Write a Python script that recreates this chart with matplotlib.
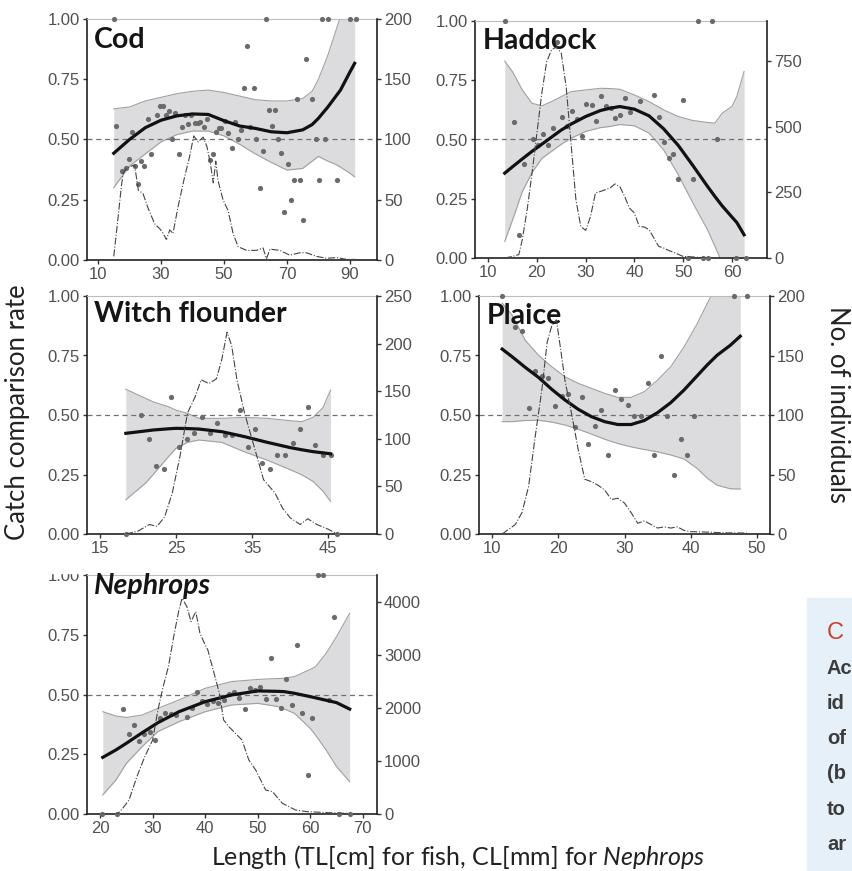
import matplotlib
matplotlib.use("Agg")
import matplotlib.pyplot as plt
from matplotlib.patches import Rectangle

plt.rcParams["font.family"] = ["Liberation Sans", "DejaVu Sans"]
plt.rcParams["mathtext.fontset"] = "custom"
plt.rcParams["mathtext.rm"] = "Lato"
plt.rcParams["mathtext.it"] = "Lato:italic"

# ---- Cod ----
cod_len = [15, 15.8, 17.7, 18.8, 19.9, 20.7, 21.6, 22.8, 23.8, 24.7, 25.9, 26.7, 28.8, 29.6, 30.5, 31.5,
           32.7, 33.6, 34.5, 35.6, 36.6, 37.7, 38.7, 39.6, 40.7, 41.8, 42.5, 43.6, 44.6, 45.5, 46.6, 47.4,
           48.4, 49.2, 50.4, 51.4, 52.5, 53.4, 54.4, 55.4, 56.4, 57.3, 58.4, 59.4, 60.3, 61.4, 62.3, 63.3,
           64.4, 65.3, 66.3, 67.3, 68.2, 69.2, 70.3, 71.2, 72.2, 73.3, 74.3, 75.2, 76.2, 78.1, 79.2, 80.2,
           81.1, 82.1, 83.1, 86, 90, 91.9]
cod_rate = [1.0, 0.556, 0.37, 0.38, 0.42, 0.53, 0.39, 0.315, 0.41, 0.39, 0.585, 0.44, 0.6, 0.64, 0.64, 0.6,
            0.62, 0.5, 0.61, 0.44, 0.55, 0.6, 0.565, 0.6, 0.567, 0.57, 0.573, 0.553, 0.587, 0.415, 0.44, 0.53,
            0.548, 0.546, 0.578, 0.528, 0.465, 0.571, 0.5, 0.538, 0.712, 0.888, 0.553, 0.712, 0.5, 0.3, 0.454, 1.0,
            0.622, 0.556, 0.622, 0.5, 0.444, 0.2, 0.398, 0.25, 0.332, 0.667, 0.332, 0.165, 0.833, 0.667, 0.5, 0.332,
            1.0, 0.5, 1.0, 0.332, 1.0, 1.0]
cod_x = [15, 20, 25, 30, 35, 40, 45, 50, 55, 60, 65, 70, 75, 78, 80, 83, 85, 87, 90, 91.5]
cod_fit = [0.443, 0.50, 0.549, 0.58, 0.598, 0.606, 0.604, 0.578, 0.556, 0.546, 0.532, 0.528, 0.54, 0.562,
           0.588, 0.635, 0.67, 0.705, 0.78, 0.816]
cod_hi = [0.627, 0.635, 0.66, 0.675, 0.69, 0.70, 0.705, 0.695, 0.68, 0.665, 0.66, 0.66, 0.67, 0.70,
          0.75, 0.85, 0.93, 1.01, 1.15, 1.2]
cod_lo = [0.30, 0.39, 0.44, 0.49, 0.52, 0.535, 0.535, 0.515, 0.48, 0.44, 0.405, 0.373, 0.38, 0.41,
          0.43, 0.41, 0.40, 0.385, 0.36, 0.345]
cod_nx = [15, 16.4, 17.4, 18, 19, 21.6, 22.8, 24.3, 25.9, 28, 29.6, 30.7, 31.7, 32.8, 33.8, 35.4, 37.5, 39.1,
          40.4, 41.8, 43.4, 44.6, 45.7, 46.6, 47.4, 48.1, 49.7, 51.3, 52.9, 54.5, 57.2, 60.3, 62.4, 63.5,
          64.6, 67.7, 70.9, 74.1, 76.2, 79.4, 82.6, 85.8, 89, 91.9]
cod_n = [3, 36, 61, 72, 76, 79, 58, 55, 43, 30, 26, 22, 17, 25, 22, 44, 69, 86,
         103, 98, 102, 94, 80, 64, 82, 66, 50, 41, 22, 11, 8, 8, 10, 1,
         9, 8, 4, 6, 6, 3, 1.4, 2, 0.5, 0.5]

# ---- Haddock ----
had_len = [13.4, 15.3, 16.3, 17.3, 19.3, 20.3, 21.2, 22.3, 23.2, 24.2, 25.2, 26.2, 27.2, 28.2, 29.2, 30.1,
           31.2, 32.1, 33.2, 34.1, 35.1, 36.1, 37.1, 38.1, 39.1, 41.1, 44.0, 45.1, 46.0, 47.1, 48.0, 49.0,
           50.0, 51.0, 52.0, 53.0, 54.0, 55.0, 56.0, 56.9, 60.9, 62.9]
had_rate = [1.0, 0.572, 0.097, 0.396, 0.504, 0.476, 0.522, 0.476, 0.55, 0.913, 0.597, 0.555, 0.619, 0.586,
            0.515, 0.65, 0.645, 0.576, 0.685, 0.642, 0.633, 0.591, 0.605, 0.674, 0.618, 0.664, 0.688, 0.594,
            0.49, 0.423, 0.438, 0.334, 0.667, 0.0, 0.334, 1.0, 0.0, 0.0, 1.0, 0.501, 0.0, 0.0]
had_x = [13.4, 15, 17, 19, 21, 23, 25, 27, 30, 33, 35, 37, 40, 43, 46, 49, 52, 55, 56.5, 58, 60, 61, 62.5]
had_fit = [0.358, 0.385, 0.418, 0.45, 0.48, 0.51, 0.54, 0.565, 0.597, 0.622, 0.632, 0.639, 0.628, 0.60,
           0.545, 0.475, 0.39, 0.302, 0.26, 0.22, 0.173, 0.15, 0.098]
had_hi = [0.831, 0.786, 0.709, 0.653, 0.642, 0.66, 0.681, 0.702, 0.709, 0.716, 0.715, 0.712, 0.688, 0.66,
          0.625, 0.597, 0.58, 0.572, 0.569, 0.611, 0.639, 0.681, 0.787]
had_lo = [0.07, 0.16, 0.28, 0.36, 0.42, 0.45, 0.48, 0.505, 0.534, 0.55, 0.555, 0.563, 0.558, 0.527,
          0.456, 0.351, 0.232, 0.119, 0.05, -0.02, -0.06, -0.08, -0.1]
had_nx = [13.4, 15, 16.3, 17, 18, 19, 20, 21, 22, 23, 24, 25, 26, 27, 28, 29, 30, 31, 32, 33, 34, 35, 36,
          37, 38, 39, 40, 41, 42, 43, 44, 45, 46, 47, 48, 50, 52, 55, 60, 63]
had_n = [0, 6, 13, 70, 184, 323, 475, 627, 747, 792, 804, 779, 652, 437, 222, 120, 105, 158, 247, 253,
         260, 266, 282, 272, 234, 190, 171, 120, 118, 108, 76, 44, 38, 29, 22, 6, 4, 0, 0, 0]

# ---- Witch flounder ----
wit_len = [18.4, 20.4, 21.4, 22.4, 23.4, 24.4, 25.4, 26.4, 27.4, 28.4, 29.4, 30.4, 31.4, 32.3, 33.4, 34.4,
           35.4, 36.3, 37.3, 38.3, 39.3, 40.3, 41.3, 42.3, 43.3, 44.3, 45.3, 46.2]
wit_rate = [0.0, 0.499, 0.398, 0.286, 0.272, 0.574, 0.367, 0.398, 0.426, 0.49, 0.426, 0.465, 0.415, 0.415,
            0.521, 0.367, 0.44, 0.3, 0.272, 0.334, 0.334, 0.384, 0.443, 0.532, 0.376, 0.334, 0.334, 0.0]
wit_x = [18.4, 21, 22, 24, 25, 26.5, 28, 31, 34, 37, 40, 41.5, 43, 44.3, 45.3]
wit_fit = [0.423, 0.433, 0.437, 0.442, 0.444, 0.443, 0.441, 0.43, 0.409, 0.385, 0.363, 0.354, 0.346, 0.341, 0.337]
wit_hi = [0.608, 0.57, 0.555, 0.535, 0.52, 0.507, 0.486, 0.486, 0.49, 0.486, 0.476, 0.472, 0.49, 0.531, 0.605]
wit_lo = [0.144, 0.214, 0.25, 0.325, 0.36, 0.385, 0.395, 0.385, 0.345, 0.31, 0.27, 0.249, 0.221, 0.18, 0.137]
wit_nx = [18.4, 20, 21.5, 22.5, 23.5, 24.5, 25.5, 26.5, 27.5, 28.3, 29.3, 30.3, 31, 31.7, 32.3, 33, 34, 35.5,
          36.5, 38, 39, 40, 41.3, 42.3, 43.5, 45, 46.2]
wit_n = [0, 3, 10, 8, 18, 43, 81, 127, 144, 162, 158, 163, 183, 212, 198, 162, 127, 85,
         57, 43, 27, 17, 10, 16, 10, 5, 0]

# ---- Plaice ----
pla_len = [11.5, 13.5, 14.5, 15.5, 16.5, 17.5, 18.5, 19.5, 20.5, 21.5, 22.5, 23.5, 24.5, 25.5, 26.5, 27.5,
           28.5, 29.5, 30.5, 31.5, 32.5, 33.5, 34.5, 35.5, 36.5, 37.5, 38.5, 39.5, 40.5, 46.5, 48.5]
pla_rate = [1.0, 0.87, 0.853, 0.528, 0.683, 0.663, 0.655, 0.538, 0.58, 0.588, 0.448, 0.574, 0.377, 0.454,
            0.522, 0.334, 0.605, 0.566, 0.543, 0.497, 0.497, 0.633, 0.334, 0.747, 0.497, 0.25, 0.398, 0.334,
            0.497, 1.0, 1.0]
pla_x = [11.5, 13, 15, 17, 19, 21, 23, 25, 27, 29, 31, 33, 35, 37, 39, 41, 42.5, 44, 46, 47.5]
pla_fit = [0.777, 0.745, 0.70, 0.658, 0.608, 0.563, 0.524, 0.493, 0.472, 0.46, 0.46, 0.477, 0.51, 0.552,
           0.605, 0.665, 0.71, 0.751, 0.793, 0.831]
pla_hi = [0.97, 0.92, 0.814, 0.751, 0.703, 0.661, 0.633, 0.612, 0.591, 0.574, 0.574, 0.598, 0.647, 0.703,
          0.786, 0.884, 0.968, 1.05, 1.15, 1.25]
pla_lo = [0.472, 0.472, 0.477, 0.478, 0.47, 0.458, 0.44, 0.42, 0.398, 0.38, 0.366, 0.355, 0.345, 0.332,
          0.315, 0.275, 0.235, 0.205, 0.19, 0.189]
pla_nx = [11.5, 13.5, 14.5, 15.5, 16.5, 17.5, 18.3, 19, 19.7, 20.3, 21, 22, 23, 24, 25, 26, 27, 28, 29, 30,
          31, 32, 33, 34, 35, 36, 37, 38, 39, 40, 42, 45, 48.5]
pla_n = [0, 8, 18, 40, 82, 121, 161, 175, 180, 157, 129, 101, 71, 46, 44, 41, 37, 29, 30, 26,
         18, 9, 11, 8, 5, 6, 5, 6, 3, 2, 1.7, 1, 0.8]

# ---- Nephrops ----
nep_len = [20.3, 23.3, 24.3, 25.4, 26.4, 27.4, 28.4, 29.4, 30.4, 31.4, 32.4, 33.4, 34.4, 36.5, 37.4, 38.4,
           39.4, 40.4, 41.5, 42.5, 43.5, 44.5, 45.4, 46.5, 47.5, 48.5, 49.5, 50.4, 51.5, 52.5, 53.5, 54.5,
           55.4, 56.5, 57.5, 58.5, 59.5, 60.4, 61.5, 62.5, 63.5, 64.5, 65.4, 67.5]
nep_rate = [0.0, 0.0, 0.438, 0.335, 0.371, 0.304, 0.335, 0.343, 0.308, 0.4, 0.421, 0.418, 0.413, 0.407,
            0.442, 0.51, 0.473, 0.462, 0.474, 0.466, 0.476, 0.502, 0.51, 0.487, 0.441, 0.526, 0.519, 0.53,
            0.48, 0.654, 0.483, 0.445, 0.563, 0.455, 0.707, 0.421, 0.163, 0.4, 1.0, 1.0, 0.477, 0.826, 0.0, 0.0]
nep_x = [20.5, 23, 25, 28, 31, 35, 40, 45, 50, 54, 55, 57, 60, 61, 63, 65, 67.5]
nep_fit = [0.237, 0.268, 0.296, 0.34, 0.382, 0.428, 0.47, 0.498, 0.515, 0.513, 0.512, 0.505, 0.491, 0.486,
           0.476, 0.466, 0.439]
nep_hi = [0.428, 0.41, 0.404, 0.414, 0.442, 0.477, 0.526, 0.554, 0.563, 0.567, 0.568, 0.575, 0.605, 0.616,
          0.672, 0.742, 0.84]
nep_lo = [0.08, 0.142, 0.212, 0.282, 0.345, 0.386, 0.428, 0.456, 0.463, 0.449, 0.44, 0.421, 0.358, 0.33,
          0.268, 0.198, 0.135]
nep_nx = [20.3, 23.3, 24.3, 25.5, 27, 28.5, 30, 31, 32, 33, 34, 35, 35.6, 36.5, 37.3, 38.2, 39, 40, 40.5,
          42.7, 43.5, 44.5, 47, 48.3, 49.6, 51.5, 52.8, 54.7, 57.2, 59.4, 63.5, 67.5]
nep_n = [0, 0, 107, 264, 703, 1080, 1394, 1959, 2399, 2775, 3340, 3843, 4062, 3906, 3623, 3811, 3403, 3183,
         3089, 2273, 1771, 1645, 1394, 1017, 829, 452, 420, 200, 75, 44, 25, 10]

# panel boxes in pixels: left, right, top, bottom
W, H = 853, 871
panels = [
    ("Cod", (87, 377, 19, 260), (6.5, 98.6), [10, 30, 50, 70, 90], 200, [0, 50, 100, 150, 200],
     cod_len, cod_rate, cod_x, cod_fit, cod_lo, cod_hi, cod_nx, cod_n, "normal", 0.035),
    ("Haddock", (475, 767, 21, 258), (7.3, 67.2), [10, 20, 30, 40, 50, 60], 902, [0, 250, 500, 750],
     had_len, had_rate, had_x, had_fit, had_lo, had_hi, had_nx, had_n, "normal", 0.03),
    ("Witch flounder", (87, 377, 296, 534), (13.3, 51.4), [15, 25, 35, 45], 250, [0, 50, 100, 150, 200, 250],
     wit_len, wit_rate, wit_x, wit_fit, wit_lo, wit_hi, wit_nx, wit_n, "normal", 0.02),
    ("Plaice", (479, 770, 296, 534), (8.0, 52.0), [10, 20, 30, 40, 50], 200, [0, 50, 100, 150, 200],
     pla_len, pla_rate, pla_x, pla_fit, pla_lo, pla_hi, pla_nx, pla_n, "normal", 0.03),
    ("Nephrops", (87, 377, 575, 814), (17.5, 72.7), [20, 30, 40, 50, 60, 70], 4500, [0, 1000, 2000, 3000, 4000],
     nep_len, nep_rate, nep_x, nep_fit, nep_lo, nep_hi, nep_nx, nep_n, "italic", -0.01),
]

fig = plt.figure(figsize=(W / 100, H / 100), dpi=100)
tick_col = "#505050"
tsize = 12

for (name, box, xlim, xt, nmax, nt, lx, ly, fx, fy, lo, hi, nx, n, style, tpad) in panels:
    l, r, t, b = box
    ax = fig.add_axes([l / W, 1 - b / H, (r - l) / W, (b - t) / H])
    ax.fill_between(fx, lo, hi, color="#dcdcde", lw=0, zorder=1)
    ax.plot(fx, hi, color="#a0a0a0", lw=0.8, zorder=2)
    ax.plot(fx, lo, color="#a0a0a0", lw=0.8, zorder=2)
    ax.axhline(0.5, color="#707070", lw=0.9, ls=(0, (4, 3)), zorder=2)
    ax.scatter(lx, ly, s=14, color="#6a6a6a", lw=0, zorder=3, clip_on=False)
    ax.plot(fx, fy, color="#111111", lw=2.3, zorder=4)
    ax.set_xlim(xlim)
    ax.set_ylim(0, 1)
    ax.set_xticks(xt)
    ax.set_yticks([0, 0.25, 0.5, 0.75, 1.0])
    ax.set_yticklabels(["0.00", "0.25", "0.50", "0.75", "1.00"])
    ax.tick_params(colors="#333333", labelcolor=tick_col, labelsize=tsize, length=3, width=1, pad=2)
    for s in ["left", "bottom"]:
        ax.spines[s].set_color("#222222")
        ax.spines[s].set_linewidth(1.2)
    ax.spines["top"].set_color("#bdbdbd")
    ax.spines["right"].set_visible(False)
    ax.text(0.025, 1 - tpad, name, transform=ax.transAxes, ha="left", va="top",
            family="Lato", weight="bold", style=style, fontsize=20.5, color="#151515", zorder=5)

    ax2 = ax.twinx()
    ax2.plot(nx, n, color="#444444", lw=0.8, ls="-.")
    ax2.set_ylim(0, nmax)
    ax2.set_yticks(nt)
    ax2.tick_params(colors="#333333", labelcolor=tick_col, labelsize=tsize, length=3, width=1, pad=2)
    ax2.spines["right"].set_color("#222222")
    ax2.spines["right"].set_linewidth(1.2)
    for s in ["left", "top", "bottom"]:
        ax2.spines[s].set_visible(False)

# top of the Nephrops "1.00" is hidden in the reference
fig.patches.append(Rectangle((30 / W, 1 - 573 / H), 55 / W, 18 / H, transform=fig.transFigure,
                             color="white", zorder=10))

fig.text(18 / W, 1 - 412 / H, "Catch comparison rate", rotation=90, ha="center", va="center",
         family="Lato", fontsize=18.5, color="#222222")
fig.text(838 / W, 1 - 404 / H, "No. of individuals", rotation=270, ha="center", va="center",
         family="Lato", fontsize=18.5, color="#222222")
fig.text(458 / W, 1 - 857 / H, r"Length (TL[cm] for fish, CL[mm] for $Nephrops$", ha="center", va="center",
         family="Lato", fontsize=18, color="#222222")

# side box, cut off by the picture edge
fig.patches.append(Rectangle((807 / W, 0), 60 / W, 1 - 598 / H, transform=fig.transFigure,
                             color="#e6f0f8", zorder=0))
fig.text(827 / W, 1 - 633 / H, "C", ha="left", va="center", fontsize=17, color="#c8412b")
lines = ["Ac", "id", "of", "(b", "to", "ar"]
for i, s in enumerate(lines):
    fig.text(827 / W, 1 - (668 + 35.3 * i) / H, s, ha="left", va="center", fontsize=14.5,
             weight="bold", color="#3c3c3c")

fig.savefig("out.png", dpi=100)
